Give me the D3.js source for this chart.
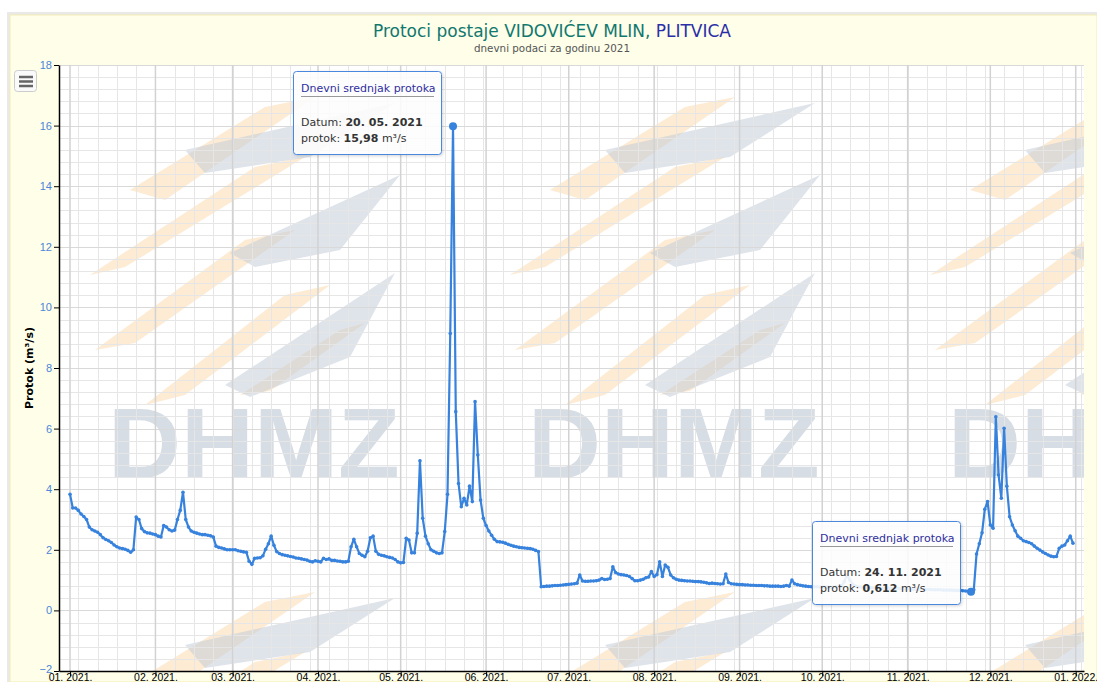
<!DOCTYPE html>
<html>
<head>
<meta charset="utf-8">
<script src="https://cdn.jsdelivr.net/npm/d3@7"></script>
<style>
body { margin: 0; background: #fff; }
svg { display: block; font-family: "DejaVu Sans", Verdana, sans-serif; }
</style>
</head>
<body>
<script>
// daily mean discharge 2021 (m3/s), one array per month
var jan = [3.83,3.38,3.38,3.30,3.18,3.10,3.00,2.75,2.66,2.62,2.58,2.50,2.40,2.34,2.30,2.24,2.16,2.10,2.06,2.04,2.02,1.98,1.92,2.00,3.08,3.00,2.70,2.60,2.56,2.55,2.52];
var feb = [2.50,2.45,2.42,2.80,2.75,2.66,2.62,2.65,3.00,3.30,3.90,3.00,2.75,2.62,2.58,2.55,2.52,2.50,2.50,2.48,2.46,2.42,2.12,2.08,2.06,2.03,2.00,2.00];
var mar = [2.00,2.00,1.97,1.95,1.93,1.92,1.62,1.52,1.72,1.73,1.74,1.80,2.02,2.20,2.45,2.15,1.94,1.88,1.84,1.82,1.80,1.78,1.76,1.73,1.72,1.70,1.68,1.66,1.62,1.60,1.64];
var apr = [1.62,1.60,1.72,1.68,1.70,1.65,1.65,1.63,1.62,1.60,1.60,1.62,2.10,2.35,2.10,1.88,1.82,1.77,1.95,2.40,2.45,1.95,1.85,1.82,1.80,1.77,1.75,1.73,1.68,1.60];
var may = [1.57,1.58,2.38,2.32,1.90,1.90,2.55,4.94,3.04,2.45,2.20,2.00,1.95,1.90,1.88,1.90,2.60,3.83,9.14,15.98,6.56,4.19,3.42,3.70,3.48,4.10,3.59,6.89,5.13,3.64,3.04];
var jun = [2.80,2.62,2.48,2.35,2.27,2.26,2.25,2.22,2.18,2.15,2.12,2.10,2.08,2.07,2.06,2.05,2.04,2.02,1.98,1.94,0.78,0.79,0.80,0.80,0.81,0.82,0.82,0.83,0.84,0.85];
var jul = [0.86,0.87,0.88,0.90,1.17,0.97,0.96,0.96,0.97,0.97,0.98,1.00,1.05,1.02,1.03,1.05,1.44,1.25,1.20,1.18,1.17,1.15,1.12,1.05,0.98,0.98,1.00,1.03,1.08,1.10,1.28];
var aug = [1.12,1.18,1.60,1.12,1.50,1.42,1.17,1.08,1.03,1.00,0.99,0.98,0.97,0.97,0.96,0.95,0.95,0.94,0.93,0.91,0.89,0.90,0.89,0.88,0.87,0.88,1.20,0.92,0.88,0.87,0.86];
var sep = [0.85,0.85,0.84,0.84,0.83,0.83,0.82,0.82,0.82,0.81,0.81,0.80,0.80,0.80,0.80,0.79,0.80,0.82,0.80,1.00,0.88,0.85,0.83,0.81,0.80,0.79,0.78,0.78,0.78,0.77];
var oct = [0.77,0.77,0.77,0.76,0.77,0.78,0.78,0.80,0.95,1.18,1.00,0.86,0.80,0.78,0.77,0.76,0.76,0.75,0.75,0.74,0.74,0.74,0.73,0.73,0.73,0.72,0.72,0.72,0.72,0.71,0.71];
var nov = [0.71,0.70,0.70,0.70,0.70,0.69,0.69,0.69,0.69,0.68,0.68,0.68,0.68,0.67,0.67,0.67,0.67,0.66,0.66,0.66,0.65,0.64,0.63,0.612,0.68,1.86,2.20,2.56,3.34,3.59];
var dec = [2.82,2.71,6.39,4.47,3.70,6.01,4.10,3.09,2.82,2.63,2.45,2.38,2.30,2.27,2.24,2.20,2.12,2.05,1.99,1.93,1.88,1.83,1.79,1.77,1.78,2.05,2.12,2.16,2.30,2.45,2.22];

var xTickLabels = ["01. 2021.","02. 2021.","03. 2021.","04. 2021.","05. 2021.","06. 2021.","07. 2021.","08. 2021.","09. 2021.","10. 2021.","11. 2021.","12. 2021.","01. 2022."];
var yTicks = [-2,0,2,4,6,8,10,12,14,16,18];

// the two tooltips open in the picture
var tips = [
  {date: new Date(2021,4,20), datum: "20. 05. 2021", protok: "15,98"},
  {date: new Date(2021,10,24), datum: "24. 11. 2021", protok: "0,612"}
];

var W = 1097, H = 682;
var plot = {left: 59, right: 1084, top: 65, bottom: 671};

var data = [];
[jan,feb,mar,apr,may,jun,jul,aug,sep,oct,nov,dec].forEach(function(m, mi) {
  m.forEach(function(v, di) { data.push({date: new Date(2021, mi, di + 1), v: v}); });
});

var x = d3.scaleTime()
    .domain([new Date(2020,11,28), new Date(2022,0,4)])
    .range([plot.left, plot.right]);
var y = d3.scaleLinear().domain([-2,18]).range([plot.bottom, plot.top]);

var svg = d3.select("body").append("svg").attr("width", W).attr("height", H);

// page frame
svg.append("rect").attr("x", 7).attr("y", 12).attr("width", W - 7).attr("height", H - 12).attr("fill", "#e9e9e9");
svg.append("rect").attr("x", 10).attr("y", 15).attr("width", W - 10).attr("height", H - 15)
    .attr("fill", "#fefee9").attr("stroke", "#f3ecb4").attr("stroke-width", 1);

// plot background
svg.append("rect").attr("x", plot.left).attr("y", plot.top)
    .attr("width", plot.right - plot.left).attr("height", plot.bottom - plot.top).attr("fill", "#fff");

var defs = svg.append("defs");
defs.append("clipPath").attr("id", "clip").append("rect")
    .attr("x", plot.left).attr("y", plot.top)
    .attr("width", plot.right - plot.left).attr("height", plot.bottom - plot.top);
var shadow = defs.append("filter").attr("id", "shadow").attr("x", "-10%").attr("y", "-10%").attr("width", "130%").attr("height", "130%");
shadow.append("feDropShadow").attr("dx", 1).attr("dy", 1).attr("stdDeviation", 1.5).attr("flood-color", "#000").attr("flood-opacity", 0.18);

// watermark tiles (logo swooshes + DHMZ)
var wm = svg.append("g").attr("clip-path", "url(#clip)");
var orange = [
  [[40,95],[175,12],[225,2],[75,105]],
  [[0,180],[165,72],[215,62],[35,172]],
  [[5,255],[155,145],[205,135],[45,248]],
  [[55,310],[195,200],[240,190],[95,300]],
  [[150,300],[250,235],[275,228],[180,296]]
];
var grey = [
  [[95,55],[305,8],[220,62],[115,78]],
  [[140,158],[310,80],[250,155],[165,172]],
  [[135,290],[305,178],[260,262],[160,302]]
];
[-330, 90, 510, 930].forEach(function(tx) {
  [-400, 95, 590].forEach(function(ty) {
    var t = wm.append("g").attr("transform", "translate(" + tx + "," + ty + ")");
    orange.forEach(function(p) {
      t.append("polygon").attr("points", p.join(" ")).attr("fill", "#fcd8a8").attr("opacity", 0.5);
    });
    grey.forEach(function(p) {
      t.append("polygon").attr("points", p.join(" ")).attr("fill", "#bfc9d7").attr("opacity", 0.5);
    });
  });
  if (tx > 0) {
    wm.append("text").attr("x", tx + 18).attr("y", 478)
        .style("font-family", "'Liberation Sans', Arial, sans-serif")
        .style("font-weight", "bold").style("font-size", "101px")
        .attr("fill", "#d7dde5").text("DHMZ");
  }
});

// grid
var grid = svg.append("g");
grid.selectAll(".hmin").data(d3.range(-2, 18.01, 0.4)).enter().append("line")
    .attr("x1", plot.left).attr("x2", plot.right)
    .attr("y1", function(d) { return Math.round(y(d)) + 0.5; })
    .attr("y2", function(d) { return Math.round(y(d)) + 0.5; })
    .attr("stroke", "#e6e6e6");
grid.selectAll(".vmin").data(d3.timeMonday.range(x.domain()[0], x.domain()[1])).enter().append("line")
    .attr("y1", plot.top).attr("y2", plot.bottom)
    .attr("x1", function(d) { return Math.round(x(d)) + 0.5; })
    .attr("x2", function(d) { return Math.round(x(d)) + 0.5; })
    .attr("stroke", "#e6e6e6");
grid.selectAll(".hmaj").data(yTicks).enter().append("line")
    .attr("x1", plot.left).attr("x2", plot.right)
    .attr("y1", function(d) { return Math.round(y(d)) + 0.5; })
    .attr("y2", function(d) { return Math.round(y(d)) + 0.5; })
    .attr("stroke", "#d9d9d9");
var monthTicks = d3.timeMonth.range(new Date(2021,0,1), new Date(2022,0,2));
grid.selectAll(".vmaj").data(monthTicks).enter().append("line")
    .attr("y1", plot.top).attr("y2", plot.bottom)
    .attr("x1", function(d) { return x(d); })
    .attr("x2", function(d) { return x(d); })
    .attr("stroke", "#d2d2d2").attr("stroke-width", 1.5);

// axes
var yAxis = svg.append("g")
    .attr("transform", "translate(" + plot.left + ",0)")
    .call(d3.axisLeft(y).tickValues(yTicks).tickSize(5).tickSizeOuter(0).tickPadding(2));
yAxis.selectAll("text").attr("fill", "#4d86d8").style("font-size", "11px");
yAxis.selectAll(".tick text").filter(function(d) { return d === -2; }).attr("dy", "0.1em");
yAxis.selectAll("line, path").attr("stroke", "#000");

var xAxis = svg.append("g")
    .attr("transform", "translate(0," + plot.bottom + ")")
    .call(d3.axisBottom(x).tickValues(monthTicks)
        .tickFormat(function(d, i) { return xTickLabels[i]; })
        .tickSize(5).tickSizeOuter(0).tickPadding(-2));
xAxis.selectAll("text").attr("fill", "#000").style("font-size", "10.5px");
xAxis.selectAll("line, path").attr("stroke", "#000");
xAxis.select(".domain").attr("stroke-width", 1.5);
yAxis.select(".domain").attr("stroke-width", 1.5);

svg.append("text")
    .attr("transform", "translate(33," + ((plot.top + plot.bottom) / 2) + ") rotate(-90)")
    .attr("text-anchor", "middle")
    .style("font-size", "11px").style("font-weight", "bold")
    .text("Protok (m³/s)");

// series
var line = d3.line().x(function(d) { return x(d.date); }).y(function(d) { return y(d.v); });
var series = svg.append("g").attr("clip-path", "url(#clip)");
series.append("path").datum(data).attr("d", line)
    .attr("fill", "none").attr("stroke", "#3782dd").attr("stroke-width", 2.2).attr("stroke-linejoin", "round");
series.selectAll(".pt").data(data).enter().append("circle")
    .attr("cx", function(d) { return x(d.date); })
    .attr("cy", function(d) { return y(d.v); })
    .attr("r", 1.8).attr("fill", "#3782dd");

var tipPts = tips.map(function(t) {
  return data.find(function(d) { return +d.date === +t.date; });
});
series.selectAll(".hl").data(tipPts).enter().append("circle")
    .attr("cx", function(d) { return x(d.date); })
    .attr("cy", function(d) { return y(d.v); })
    .attr("r", 4).attr("fill", "#3782dd");

// title
var title = svg.append("text").attr("x", 552).attr("y", 37).attr("text-anchor", "middle")
    .style("font-size", "17.5px").attr("textLength", 358).attr("lengthAdjust", "spacingAndGlyphs");
title.append("tspan").attr("fill", "#11786f").text("Protoci postaje ");
title.append("tspan").attr("fill", "#11786f").text("VIDOVIĆEV MLIN, ");
title.append("tspan").attr("fill", "#2a2fa8").text("PLITVICA");
svg.append("text").attr("x", 552).attr("y", 52).attr("text-anchor", "middle")
    .style("font-size", "10.5px").attr("fill", "#555")
    .attr("textLength", 156).attr("lengthAdjust", "spacingAndGlyphs")
    .text("dnevni podaci za godinu 2021");

// export menu button
var btn = svg.append("g");
btn.append("rect").attr("x", 14.5).attr("y", 70.5).attr("width", 22).attr("height", 21).attr("rx", 3)
    .attr("fill", "#fafafa").attr("stroke", "#ccc");
[77, 81.5, 86].forEach(function(yy) {
  btn.append("line").attr("x1", 19).attr("x2", 33).attr("y1", yy).attr("y2", yy)
      .attr("stroke", "#666").attr("stroke-width", 2.5);
});

// tooltips
var tipPos = [{x: 293, y: 71}, {x: 812, y: 521}];
tips.forEach(function(t, i) {
  var p = tipPos[i];
  var g = svg.append("g").attr("transform", "translate(" + p.x + "," + p.y + ")");
  g.append("rect").attr("x", 0.5).attr("y", 0.5).attr("width", 148).attr("height", 83).attr("rx", 3)
      .attr("fill", "rgba(255,255,255,0.88)").attr("stroke", "#4a88dc").attr("stroke-width", 1)
      .attr("filter", "url(#shadow)");
  g.append("text").attr("x", 8).attr("y", 20.5).style("font-size", "11px").attr("fill", "#2f2f9e")
      .text("Dnevni srednjak protoka");
  g.append("line").attr("x1", 8).attr("x2", 141).attr("y1", 25.5).attr("y2", 25.5)
      .attr("stroke", "#999").attr("stroke-width", 1);
  var t1 = g.append("text").attr("x", 8).attr("y", 55).style("font-size", "11px").attr("fill", "#333");
  t1.append("tspan").text("Datum: ");
  t1.append("tspan").style("font-weight", "bold").text(t.datum);
  var t2 = g.append("text").attr("x", 8).attr("y", 71).style("font-size", "11px").attr("fill", "#333");
  t2.append("tspan").text("protok: ");
  t2.append("tspan").style("font-weight", "bold").text(t.protok);
  t2.append("tspan").text(" m³/s");
});
</script>
</body>
</html>
